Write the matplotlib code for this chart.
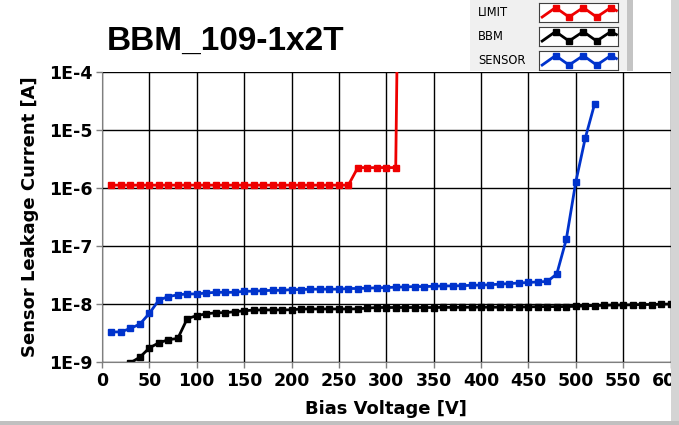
import numpy as np
import matplotlib
matplotlib.use("Agg")
import matplotlib.pyplot as plt
from matplotlib.patches import Rectangle
from matplotlib.ticker import FixedLocator, FixedFormatter

# ---- data ----
limit_v = [10, 20, 30, 40, 50, 60, 70, 80, 90, 100, 110, 120, 130, 140, 150, 160, 170, 180, 190,
           200, 210, 220, 230, 240, 250, 260, 270, 280, 290, 300, 310, 312]
limit_i = [1.12e-6] * 26 + [2.25e-6] * 5 + [1e-3]

bbm_v = list(range(10, 610, 10))
bbm_i = [6e-10, 8e-10, 9.7e-10, 1.21e-9, 1.75e-9, 2.14e-9, 2.42e-9, 2.55e-9, 5.6e-9, 6.3e-9,
         6.77e-9, 7.05e-9, 7.1e-9, 7.35e-9, 7.64e-9, 7.86e-9, 7.9e-9, 7.9e-9, 7.9e-9, 7.95e-9,
         8.2e-9, 8.2e-9, 8.2e-9, 8.2e-9, 8.2e-9, 8.2e-9, 8.25e-9, 8.5e-9, 8.7e-9, 8.7e-9,
         8.7e-9, 8.7e-9, 8.7e-9, 8.7e-9, 8.7e-9, 8.75e-9, 8.75e-9, 8.75e-9, 8.8e-9, 8.8e-9,
         8.8e-9, 8.8e-9, 8.85e-9, 8.9e-9, 8.9e-9, 9.0e-9, 9.0e-9, 9.0e-9, 9.05e-9, 9.1e-9,
         9.3e-9, 9.4e-9, 9.5e-9, 9.6e-9, 9.6e-9, 9.7e-9, 9.8e-9, 9.8e-9, 9.9e-9, 1.0e-8]

sensor_v = list(range(10, 530, 10))
sensor_i = [3.3e-9, 3.3e-9, 3.8e-9, 4.5e-9, 6.9e-9, 1.17e-8, 1.34e-8, 1.44e-8, 1.49e-8, 1.49e-8,
            1.55e-8, 1.59e-8, 1.59e-8, 1.59e-8, 1.66e-8, 1.66e-8, 1.7e-8, 1.72e-8, 1.72e-8, 1.77e-8,
            1.77e-8, 1.8e-8, 1.8e-8, 1.8e-8, 1.8e-8, 1.85e-8, 1.85e-8, 1.87e-8, 1.9e-8, 1.92e-8,
            1.95e-8, 1.97e-8, 2.0e-8, 2.0e-8, 2.02e-8, 2.05e-8, 2.05e-8, 2.07e-8, 2.1e-8, 2.12e-8,
            2.15e-8, 2.2e-8, 2.25e-8, 2.3e-8, 2.35e-8, 2.4e-8, 2.45e-8, 3.3e-8, 1.3e-7, 1.26e-6,
            7.2e-6, 2.85e-5]

x_ticks = list(range(0, 650, 50))
y_ticks = [1e-9, 1e-8, 1e-7, 1e-6, 1e-5, 1e-4]
y_labels = ["1E-9", "1E-8", "1E-7", "1E-6", "1E-5", "1E-4"]

series_names = ["LIMIT", "BBM", "SENSOR"]
RED = "#ee0000"
BLACK = "#000000"
BLUE = "#0033cc"
series_colors = [RED, BLACK, BLUE]

W, H = 679, 425


def fig_rect(x0, y0, x1, y1):
    # pixel box (top-left origin) -> figure fraction rect
    return [x0 / W, 1 - y1 / H, (x1 - x0) / W, (y1 - y0) / H]


fig = plt.figure(figsize=(W / 100, H / 100), dpi=100)
fig.patch.set_facecolor("white")
ax = fig.add_axes(fig_rect(102, 72, 670.5, 362))

kw = dict(lw=2, marker="s", markersize=4.5)
ax.plot(limit_v, limit_i, color=RED, **kw)
ax.plot(bbm_v, bbm_i, color=BLACK, **kw)
ax.plot(sensor_v, sensor_i, color=BLUE, **kw)

ax.set_yscale("log")
ax.set_xlim(0, 600)
ax.set_ylim(1e-9, 1e-4)
ax.xaxis.set_major_locator(FixedLocator(x_ticks))
ax.yaxis.set_major_locator(FixedLocator(y_ticks))
ax.yaxis.set_major_formatter(FixedFormatter(y_labels))
ax.yaxis.set_minor_locator(FixedLocator([]))
ax.grid(True, color="black", lw=1)
ax.set_axisbelow(True)
for s in ["top", "right"]:
    ax.spines[s].set_visible(False)
for s in ["left", "bottom"]:
    ax.spines[s].set_color("#7f7f7f")
ax.tick_params(length=4, width=1, color="#7f7f7f", labelsize=12.5, pad=3)
for t in ax.get_xticklabels() + ax.get_yticklabels():
    t.set_fontweight("bold")

fig.text(107 / W, 1 - 50 / H, "BBM_109-1x2T", fontsize=24, fontweight="bold",
         family="Liberation Sans", va="baseline", ha="left")
fig.text(386 / W, 1 - 409 / H, "Bias Voltage [V]", fontsize=13, fontweight="bold",
         ha="center", va="center")
fig.text(30 / W, 1 - 217 / H, "Sensor Leakage Current [A]", fontsize=13,
         fontweight="bold", rotation=90, ha="center", va="center")

# ---- legend panel drawn by hand (labels left, zigzag swatches right) ----
panel = fig.add_axes(fig_rect(470, 0, 627, 71))
panel.set_facecolor("#f0f0f0")
panel.set_xticks([])
panel.set_yticks([])
for sp in panel.spines.values():
    sp.set_visible(False)
fig.patches.append(Rectangle((627 / W, 1 - 71 / H), 6 / W, 71 / H, transform=fig.transFigure,
                             facecolor="#c4c4c4", edgecolor="none", zorder=3))

zig_x = np.array([0.04, 0.21, 0.38, 0.56, 0.73, 0.91, 0.98])
zig_y = np.where(np.arange(7) % 2 == 1, 0.76, 0.26)
zig_y[-1] = 0.6
row_tops = [3, 27, 51]
for name, col, top in zip(series_names, series_colors, row_tops):
    fig.text(478 / W, 1 - (top + 10) / H, name, fontsize=8.3, va="center", ha="left",
             zorder=5)
    sw = fig.add_axes(fig_rect(539, top, 618, top + 19))
    sw.set_facecolor("white")
    sw.set_xlim(0, 1)
    sw.set_ylim(0, 1)
    sw.set_xticks([])
    sw.set_yticks([])
    for sp in sw.spines.values():
        sp.set_color("#404040")
    sw.plot(zig_x, zig_y, color=col, lw=2)
    sw.plot(zig_x[1:-1], zig_y[1:-1], color=col, ls="none", marker="s", markersize=4)

# window edges
fig.patches.append(Rectangle((671 / W, 0), 8 / W, 1, transform=fig.transFigure,
                             facecolor="#d4d4d4", edgecolor="none", zorder=10))
fig.patches.append(Rectangle((0, 0), 1, 4 / H, transform=fig.transFigure,
                             facecolor="#c0c0c0", edgecolor="none", zorder=10))

fig.savefig("out.png", dpi=100)
